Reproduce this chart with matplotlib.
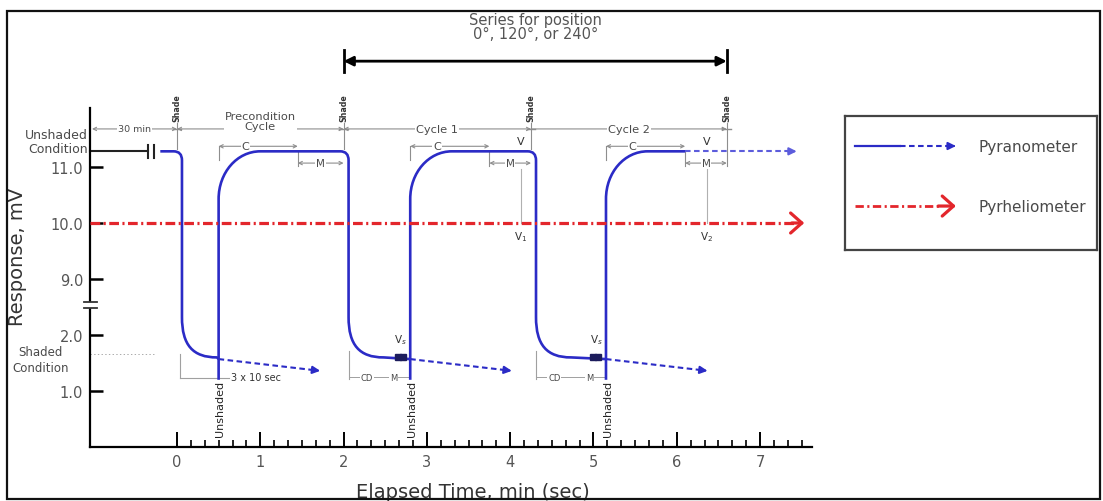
"""
Shade / unshade response schematic: pyranometer trace through a precondition
cycle and two measurement cycles, pyrheliometer reference at 10 mV.
"""
import numpy as np
import matplotlib
matplotlib.use("Agg")
import matplotlib.pyplot as plt
from matplotlib.path import Path
from matplotlib.patches import PathPatch, Rectangle

plt.rcParams["font.family"] = ["DejaVu Sans"]
plt.rcParams["lines.scale_dashes"] = False

# event times, min
SHADE_MIN = [0.0, 2.0, 4.25, 6.6]
UNSHADE_MIN = [0.5, 2.8, 5.15]
CYCLE_NAMES = ["Precondition\nCycle", "Cycle 1", "Cycle 2"]
C_SPAN_MIN = 0.95        # C window after unshade, M runs from there to the next shade
DECAY_SPAN_MIN = 1.22    # dashed continuation of the shaded decay
READ_MIN = [4.13, 6.36]  # V1, V2 reading points
HOLD_END_MIN = 6.1       # last solid point of the final unshaded plateau
TRACE_END_MIN = 7.44

# response levels, mV
UNSHADED_MV = 11.28
SHADED_MV = 1.6
DECAY_END_MV = 1.36
RISE_FOOT_MV = 1.2
PYRHELIO_MV = 10.0

Y_TICKS_MV = [1.0, 2.0, 9.0, 10.0, 11.0]
X_TICKS = [0, 1, 2, 3, 4, 5, 6, 7]

BLUE = "#2b2bc6"
LIGHT_BLUE = "#5c5cdc"
RED = "#e3262c"
GREY = "#8e8e8e"
TXT = "#4a4a4a"

W, H = 1103, 502
MOVE, LINE, C3, C4 = Path.MOVETO, Path.LINETO, Path.CURVE3, Path.CURVE4


def to_plot(mv):
    """mV -> position on the broken axis (1-2 mV below the break, 9-11 mV above)."""
    mv = np.asarray(mv, dtype=float)
    return np.where(mv >= 9.0, mv, np.where(mv <= 2.0, mv + 6.0, 8.0 + (mv - 2.0) / 7.0))


def rise(t_up, foot, hi):
    # vertical jump, then a rounded approach to the plateau
    v = [(t_up, foot), (t_up, hi - 0.85), (t_up, hi - 0.38), (t_up + 0.22, hi), (t_up + 0.5, hi)]
    return v, [MOVE, LINE, C4, C4, C4]


def fall(t_drop, t_next, hi, lo):
    v = [(t_drop - 0.1, hi), (t_drop, hi), (t_drop, hi - 0.16), (t_drop, lo + 0.72),
         (t_drop, lo + 0.22), (t_drop + 0.13, lo), (t_drop + 0.42, lo), (t_next, lo - 0.03)]
    return v, [LINE, C3, C3, LINE, C4, C4, C4, LINE]


def add_trace(ax, verts, codes):
    ax.add_patch(PathPatch(Path(verts, codes), fill=False, ec=BLUE, lw=1.9, zorder=4,
                           capstyle="butt", joinstyle="round"))


def dashed_arrow(ax, x0, y0, x1, y1, color, lw=1.5):
    xm, ym = x0 + 0.92 * (x1 - x0), y0 + 0.92 * (y1 - y0)
    ax.plot([x0, xm], [y0, ym], color=color, lw=lw, dashes=(4, 2.5), zorder=4)
    ax.annotate("", xy=(x1, y1), xytext=(xm, ym),
                arrowprops=dict(arrowstyle="-|>", color=color, lw=lw, mutation_scale=11,
                                shrinkA=0, shrinkB=0), zorder=4)


def dim_arrow(ax, x0, x1, y, style="<->"):
    ax.annotate("", xy=(x1, y), xytext=(x0, y),
                arrowprops=dict(arrowstyle=style, color=GREY, lw=0.8, mutation_scale=6,
                                shrinkA=0, shrinkB=0))


def label(ax, x, y, s, size, **kw):
    ax.text(x, y, s, fontsize=size, color=kw.pop("color", TXT), ha=kw.pop("ha", "center"),
            va=kw.pop("va", "center"), clip_on=False,
            bbox=dict(fc="white", ec="none", pad=0.6), **kw)


def main():
    fig = plt.figure(figsize=(W / 100, H / 100), dpi=100)
    ax = fig.add_axes([90 / W, (H - 448) / H, 722 / W, 436 / H])
    ax.set_xlim(-1.044, 7.623)
    ax.set_ylim(6.0, 13.786)
    x_left = ax.get_xlim()[0]

    hi = float(to_plot(UNSHADED_MV))
    lo = float(to_plot(SHADED_MV))
    foot = float(to_plot(RISE_FOOT_MV))
    tail = float(to_plot(DECAY_END_MV))
    ref = float(to_plot(PYRHELIO_MV))
    drops = [s + 0.06 for s in SHADE_MIN]

    # axes frame
    for side in ("top", "right"):
        ax.spines[side].set_visible(False)
    ax.spines["left"].set_bounds(6.0, 12.05)
    for side in ("left", "bottom"):
        ax.spines[side].set_linewidth(1.6)
    ax.set_xticks(X_TICKS)
    ax.set_xticks(np.arange(0, 7.51, 1 / 6), minor=True)
    ax.set_yticks(to_plot(Y_TICKS_MV))
    ax.set_yticklabels([f"{v:.1f}" for v in Y_TICKS_MV])
    ax.tick_params(axis="x", which="major", direction="in", length=11, width=1.4,
                   labelsize=10.5, labelcolor="#555", pad=5)
    ax.tick_params(axis="x", which="minor", direction="in", length=5, width=1.2)
    ax.tick_params(axis="y", direction="in", length=9, width=1.8,
                   labelsize=10.5, labelcolor="#555", pad=5)
    ax.set_xlabel("Elapsed Time, min (sec)", fontsize=14, color="#333")
    ax.xaxis.set_label_coords(0.53, -0.103)
    ax.xaxis.label.set_va("center")
    ax.set_ylabel("Response, mV", fontsize=14, color="#333")
    ax.yaxis.set_label_coords(-0.1, 0.438)
    ax.yaxis.label.set_va("center")

    # break on the response axis
    ax.add_patch(Rectangle((-1.12, 8.48), 0.16, 0.11, fc="white", ec="none",
                           clip_on=False, zorder=5))
    for yb in (8.48, 8.59):
        ax.plot([-1.12, -0.96], [yb, yb], color="#333", lw=1.3, clip_on=False, zorder=6)

    # pyrheliometer reference
    ax.plot([x_left, 7.42], [ref, ref], color=RED, lw=2.3, dashes=(7, 2.5, 1.5, 2.5), zorder=6)
    ax.annotate("", xy=(7.53, ref), xytext=(7.38, ref),
                arrowprops=dict(arrowstyle="->,head_length=0.45,head_width=0.4", color=RED,
                                lw=2.3, mutation_scale=18, shrinkA=0, shrinkB=0), zorder=6)

    # pyranometer trace
    v, c = [(-0.2, hi)], [MOVE]
    fv, fc = fall(drops[0], UNSHADE_MIN[0], hi, lo)
    add_trace(ax, v + fv, c + fc)
    for k in range(2):
        rv, rc = rise(UNSHADE_MIN[k], foot, hi)
        fv, fc = fall(drops[k + 1], UNSHADE_MIN[k + 1], hi, lo)
        add_trace(ax, rv + fv, rc + fc)
    rv, rc = rise(UNSHADE_MIN[2], foot, hi)
    add_trace(ax, rv + [(HOLD_END_MIN, hi)], rc + [LINE])
    dashed_arrow(ax, HOLD_END_MIN, hi, TRACE_END_MIN, hi, LIGHT_BLUE)
    for tu in UNSHADE_MIN:
        dashed_arrow(ax, tu, lo - 0.03, tu + DECAY_SPAN_MIN, tail, BLUE)

    # condition markers on the left
    ax.plot([x_left, -0.35], [hi, hi], color="#222", lw=1.5, clip_on=False)
    for xb in (-0.35, -0.28):
        ax.plot([xb, xb], [hi - 0.12, hi + 0.12], color="#222", lw=1.5)
    ax.text(-1.07, 11.46, "Unshaded\nCondition", fontsize=9, color=TXT, ha="right",
            va="center", linespacing=1.05, clip_on=False)
    ax.plot([x_left, -0.26], [7.66, 7.66], color="#aaa", lw=0.7, ls=":", clip_on=False)
    ax.text(-1.64, 7.57, "Shaded\nCondition", fontsize=8.5, color=TXT, ha="center",
            va="center", linespacing=1.3, clip_on=False)

    # cycle dimension line and shade / unshade markers
    y_dim, y_c, y_m = 11.68, 11.37, 11.07
    dim_arrow(ax, -1.02, SHADE_MIN[0], y_dim)
    label(ax, (-1.02 + SHADE_MIN[0]) / 2, y_dim, "30 min", 6.8)
    for i, name in enumerate(CYCLE_NAMES):
        t0, t1 = SHADE_MIN[i], SHADE_MIN[i + 1]
        dim_arrow(ax, t0, t1, y_dim, "<->" if i < 2 else "-|>")
        ym = y_dim + 0.15 if "\n" in name else y_dim
        label(ax, (t0 + t1) / 2, ym, name, 8.2, linespacing=1.0)
    for j, s in enumerate(SHADE_MIN):
        y_low = y_m - 0.05 if j == len(SHADE_MIN) - 1 else hi + 0.04
        ax.plot([s, s], [y_dim + 0.1, y_low], color=GREY, lw=0.8)
        ax.plot([s - 0.05, s + 0.05], [y_dim, y_dim], color=GREY, lw=1.0)
        ax.text(s, 12.07, "Shade", rotation=90, fontsize=5.7, fontweight="bold",
                color="#333", ha="center", va="center", clip_on=False)
    for tu in UNSHADE_MIN:
        ax.text(tu + 0.02, 6.7, "Unshaded", rotation=90, fontsize=8, color="#222",
                ha="center", va="center")

    # C and M windows
    for tu, s_next in zip(UNSHADE_MIN, SHADE_MIN[1:]):
        m0 = tu + C_SPAN_MIN
        ax.plot([tu, tu], [y_c - 0.24, y_c], color=GREY, lw=0.8)
        dim_arrow(ax, tu, m0, y_c)
        label(ax, tu + 0.32, y_c, "C", 8)
        ax.plot([m0, m0], [hi, y_m - 0.06], color=GREY, lw=0.8)
        dim_arrow(ax, m0, s_next, y_m)
        label(ax, (m0 + s_next) / 2, y_m, "M", 7.5)

    # unshaded readings
    for k, t in enumerate(READ_MIN):
        ax.plot([t, t], [y_m - 0.1, ref], color="#b0b0b0", lw=0.8, zorder=2)
        ax.text(t, 11.47, "V", fontsize=8, color="#333", ha="center", va="center")
        ax.text(t, 9.77, f"V$_{k + 1}$", fontsize=7.5, color="#333", ha="center", va="center")

    # shaded readings and their windows
    for d, tu in zip(drops[1:3], UNSHADE_MIN[1:]):
        ax.plot([tu - 0.15, tu - 0.09], [lo, lo], ls="none", marker="s", ms=4,
                color="#1c1c5c", zorder=5)
        ax.text(tu - 0.12, 7.93, "V$_s$", fontsize=7.5, color="#333", ha="center", va="center")
        ax.plot([d, d], [7.71, 7.22], color="#a0a0a0", lw=0.8)
        ax.plot([d, tu], [7.25, 7.25], color="#a0a0a0", lw=0.7)
        label(ax, d + 0.22, 7.25, "CD", 6)
        label(ax, tu - 0.2, 7.25, "M", 6)
    ax.plot([0.04, 0.04], [7.66, 7.24], color="#a0a0a0", lw=0.8)
    ax.plot([0.04, 0.62], [7.24, 7.24], color="#a0a0a0", lw=0.8)
    ax.text(0.65, 7.25, "3 x 10 sec", fontsize=7, color="#333", ha="left", va="center")

    # measurement series span
    y_ser = 12.89
    ax.annotate("", xy=(SHADE_MIN[3], y_ser), xytext=(SHADE_MIN[1], y_ser),
                arrowprops=dict(arrowstyle="<|-|>", color="black", lw=2.0, mutation_scale=14,
                                shrinkA=0, shrinkB=0))
    for s in (SHADE_MIN[1], SHADE_MIN[3]):
        ax.plot([s, s], [y_ser - 0.2, y_ser + 0.2], color="black", lw=2.0)
    mid = (SHADE_MIN[1] + SHADE_MIN[3]) / 2
    ax.text(mid, 13.64, "Series for position", fontsize=10.5, color="#555", ha="center", va="center")
    ax.text(mid, 13.39, "0°, 120°, or 240°", fontsize=10.5, color="#555", ha="center", va="center")

    # legend box
    lax = fig.add_axes([845 / W, (H - 251) / H, 252 / W, 134 / H])
    lax.set_xlim(0, 1)
    lax.set_ylim(0, 1)
    lax.set_xticks([])
    lax.set_yticks([])
    for sp in lax.spines.values():
        sp.set_linewidth(1.6)
        sp.set_color("#444")
    lax.plot([0.04, 0.22], [0.776, 0.776], color=BLUE, lw=1.6)
    dashed_arrow(lax, 0.22, 0.776, 0.44, 0.776, BLUE)
    lax.plot([0.04, 0.38], [0.328, 0.328], color=RED, lw=2.0, dashes=(6, 2.5, 1.5, 2.5))
    lax.annotate("", xy=(0.44, 0.328), xytext=(0.37, 0.328),
                 arrowprops=dict(arrowstyle="->,head_length=0.45,head_width=0.4", color=RED,
                                 lw=2.3, mutation_scale=18, shrinkA=0, shrinkB=0))
    lax.text(0.53, 0.776, "Pyranometer", fontsize=11, color=TXT, va="center")
    lax.text(0.53, 0.328, "Pyrheliometer", fontsize=11, color=TXT, va="center")

    # outer frame
    fig.add_artist(Rectangle((7 / W, 2 / H), 1093 / W, 488 / H, transform=fig.transFigure,
                             fill=False, ec="#111", lw=1.6))

    fig.savefig("out.png", dpi=100)
    plt.close(fig)


if __name__ == "__main__":
    main()
